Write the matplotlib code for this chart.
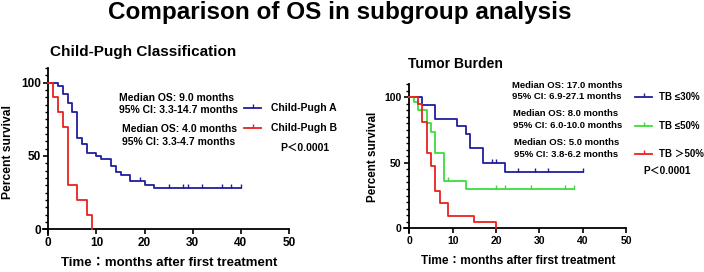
import numpy as np
import matplotlib
matplotlib.use("Agg")
import matplotlib.pyplot as plt
from matplotlib.path import Path
from matplotlib.lines import Line2D

plt.rcParams['font.family'] = ['Liberation Sans', 'Noto Sans CJK JP', 'DejaVu Sans']
plt.rcParams['font.weight'] = 'bold'

# ---------------- data ----------------
cp_a_t = [0, 2, 3, 4, 5, 6, 7, 8, 10, 11, 13, 14, 15, 17, 20, 22, 40]
cp_a_s = [100, 98, 92, 86, 80, 62, 58, 52, 50, 48, 43, 39, 37, 33, 30, 28, 28]
cp_a_cens = [19, 25, 28, 29, 32, 36, 38, 40]

cp_b_t = [0, 1, 2, 3, 4, 6, 8, 9]
cp_b_s = [100, 90, 80, 70, 30, 20, 10, 0]
cp_b_cens = []

tb30_t = [0, 3, 6, 11, 13, 14, 17, 22, 40]
tb30_s = [100, 94.4, 83.3, 77.8, 72.2, 61.1, 50, 42.9, 42.9]
tb30_cens = [19, 20, 25, 29, 32, 40]

tb50_t = [0, 1, 2, 4, 5, 6, 8, 13, 38]
tb50_s = [100, 96.7, 90, 80, 73.3, 57.8, 36.4, 30.3, 30.3]
tb50_cens = [9, 20, 22, 28, 36, 38]

tbgt_t = [0, 2, 3, 4, 5, 6, 7, 9, 15, 20]
tbgt_s = [100, 95.2, 81, 57.1, 47.6, 28.6, 19, 9.5, 4.8, 0]
tbgt_cens = []

cp_labels = ["Child-Pugh A", "Child-Pugh B"]
cp_notes = [("Median OS: 9.0 months", "95% CI: 3.3-14.7 months"),
            ("Median OS: 4.0 months", "95% CI: 3.3-4.7 months")]
tb_labels = ["TB \u226430%", "TB \u226450%", "TB \uff1e50%"]
tb_notes = [("Median OS: 17.0 months", "95% CI: 6.9-27.1 months"),
            ("Median OS: 8.0 months", "95% CI: 6.0-10.0 months"),
            ("Median OS: 5.0 months", "95% CI: 3.8-6.2 months")]
p_text = "P\uff1c0.0001"
x_ticks = [0, 10, 20, 30, 40, 50]
y_ticks = [0, 50, 100]

BLUE = "#1f1f9e"
RED = "#e8221e"
GREEN = "#3ddc3d"

W, H = 704, 272
fig = plt.figure(figsize=(W / 100, H / 100), dpi=100)


def fx(x):
    return x / W


def fy(y):
    return 1 - y / H


tick_marker = Path([(0, 0), (0, 1)])


def km(ax, t, s, cens, color):
    ax.step(t, s, where='post', color=color, lw=1.3, clip_on=False, zorder=3)
    if cens:
        t_arr = np.array(t)
        s_arr = np.array(s)
        cy = [s_arr[np.searchsorted(t_arr, c, side='right') - 1] for c in cens]
        ax.plot(cens, cy, linestyle='none', marker=tick_marker, markersize=6,
                markeredgecolor=color, markeredgewidth=1.0, clip_on=False, zorder=3)


def style_axes(ax, xmin, tick_fs):
    ax.set_xlim(xmin, 50)
    ax.set_ylim(-4, 110)
    for sp in ['top', 'right']:
        ax.spines[sp].set_visible(False)
    ax.spines['left'].set_position(('data', 0))
    ax.spines['bottom'].set_position(('data', 0))
    for sp in ['left', 'bottom']:
        ax.spines[sp].set_linewidth(1.3)
    ax.set_xticks(x_ticks)
    ax.set_yticks(y_ticks)
    ax.set_yticks(np.arange(0, 111, 5), minor=True)
    ax.tick_params(axis='both', which='major', length=3.5, width=1.2, pad=2,
                   labelsize=tick_fs)
    ax.tick_params(axis='y', which='minor', length=2, width=1.0)
    for lab in ax.get_xticklabels() + ax.get_yticklabels():
        lab.set_fontweight('bold')
    ax.set_facecolor('none')


# ---------------- left panel ----------------
axL = fig.add_axes([fx(43.0), fy(235.2), fx(289 - 43.0), (235.2 - 68) / H])
km(axL, cp_a_t, cp_a_s, cp_a_cens, BLUE)
km(axL, cp_b_t, cp_b_s, cp_b_cens, RED)
style_axes(axL, -1.1, 8.5)

# ---------------- right panel ----------------
axR = fig.add_axes([fx(403.7), fy(233.5), fx(626 - 403.7), (233.5 - 84.2) / H])
km(axR, tb30_t, tb30_s, tb30_cens, BLUE)
km(axR, tb50_t, tb50_s, tb50_cens, GREEN)
km(axR, tbgt_t, tbgt_s, tbgt_cens, RED)
style_axes(axR, -1.3, 7.5)

# ---------------- texts ----------------
fig.text(fx(340), fy(13), "Comparison of OS in subgroup analysis", ha='center', va='center',
         fontsize=17.5, fontweight='bold')
fig.text(fx(50), fy(52), "Child-Pugh Classification", ha='left', va='center',
         fontsize=11, fontweight='bold')
fig.text(fx(408), fy(64), "Tumor Burden", ha='left', va='center',
         fontsize=10, fontweight='bold')

# axis labels
fig.text(fx(8.5), fy(152), "Percent survival", rotation=90, ha='center', va='center',
         fontsize=8.7, fontweight='bold')
fig.text(fx(373.5), fy(157), "Percent survival", rotation=90, ha='center', va='center',
         fontsize=8.4, fontweight='bold')
fig.text(fx(169.5), fy(263), "Time\uff1amonths after first treatment", ha='center', va='center',
         fontsize=9.5, fontweight='bold')
fig.text(fx(518.7), fy(261), "Time\uff1amonths after first treatment", ha='center', va='center',
         fontsize=8.6, fontweight='bold')

# left annotations
left_note_pos = [(119, 98, 110), (121.7, 129, 142.3)]
for (a, b), (x, y1, y2) in zip(cp_notes, left_note_pos):
    fig.text(fx(x), fy(y1), a, ha='left', va='center', fontsize=7.5, fontweight='bold')
    fig.text(fx(x), fy(y2), b, ha='left', va='center', fontsize=7.5, fontweight='bold')

# right annotations
right_note_pos = [(511.7, 85, 96.7), (513, 113.3, 125.3), (513.7, 142.3, 154.3)]
for (a, b), (x, y1, y2) in zip(tb_notes, right_note_pos):
    fig.text(fx(x), fy(y1), a, ha='left', va='center', fontsize=6.8, fontweight='bold')
    fig.text(fx(x), fy(y2), b, ha='left', va='center', fontsize=6.8, fontweight='bold')


def legend_item(x0, x1, y, color, label, tx, fs):
    ln = Line2D([fx(x0), fx((x0 + x1) / 2), fx(x1)], [fy(y)] * 3, transform=fig.transFigure,
                color=color, lw=1.3, marker=tick_marker, markevery=[1], markersize=6,
                markeredgecolor=color, markeredgewidth=1.0)
    fig.add_artist(ln)
    fig.text(fx(tx), fy(y), label, ha='left', va='center', fontsize=fs, fontweight='bold')


legend_item(244, 261, 108, BLUE, cp_labels[0], 271, 7.5)
legend_item(244, 261, 128.3, RED, cp_labels[1], 271, 7.5)
fig.text(fx(280), fy(148), p_text, ha='left', va='center', fontsize=7.5, fontweight='bold')

for y, c, lab in zip([96.7, 125.7, 154.3], [BLUE, GREEN, RED], tb_labels):
    legend_item(635, 652, y, c, lab, 659, 7)
fig.text(fx(643), fy(170.7), p_text, ha='left', va='center', fontsize=7.2, fontweight='bold')

fig.savefig("out.png", dpi=100, facecolor='white')
